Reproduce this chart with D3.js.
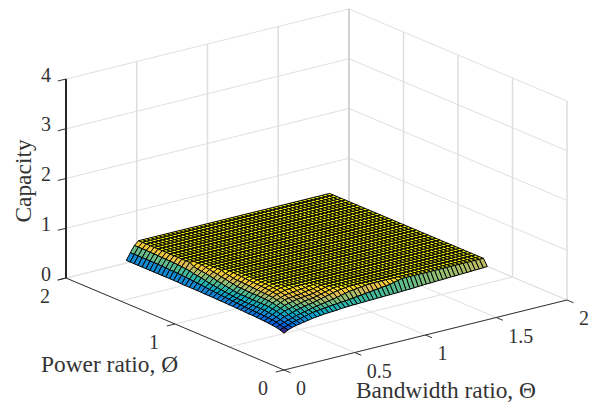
<!DOCTYPE html>
<html><head><meta charset="utf-8">
<script src="https://cdn.jsdelivr.net/npm/d3@7"></script>
<style>html,body{margin:0;padding:0;background:#fff}svg{display:block}text{font-family:"Liberation Serif",serif;fill:#333}</style>
</head><body><div id="c"></div>
<script>
const zTicks=[0,1,2,3,4];
const powerTicks=[0,1,2];
const bandwidthTicks=[0,0.5,1,1.5,2];
const bandwidthTickLabels=["0","0.5","1","1.5","2"];
const gridSteps=[0,0.5,1,1.5,2];
const powerMax=1.447, bandwidthMax=1.437;
const powerCells=40, bandwidthCells=50;
const plateau=1.2;
// Capacity: rows by power, columns by bandwidth. A row lists its values until it reaches the plateau.
const capacityRows=[
[.74,.785,.815,.835,.85,.865,.88,.895,.905,.915,.925,.93,.935,.94,.95,.955,.96,.965,.965,.97,.97,.975,.975,.98,.98,.985,.985,.99,.99,.995,1.0,1.0,1.005,1.01,1.015,1.02,1.02,1.025,1.03,1.03,1.035,1.04,1.04,1.045,1.05,1.05,1.055,1.06,1.06,1.065,1.07],
[.77,.80,.83,.86,.88,.90,.92,.94,.96,.97,.98,.99,1.0,1.01,1.015,1.025,1.03,1.04,1.05,1.06,1.07,1.08,1.09,1.10,1.11,1.12,1.13,1.14,1.16,1.18],
[.79,.82,.85,.875,.90,.925,.945,.96,.98,1.0,1.015,1.03,1.045,1.06,1.075,1.09,1.11,1.13,1.15,1.16,1.17,1.18,1.19],
[.80,.84,.87,.91,.93,.955,.98,1.0,1.02,1.035,1.05,1.07,1.09,1.11,1.13,1.15,1.17,1.18,1.19],
[.81,.85,.89,.93,.97,.99,1.01,1.03,1.05,1.07,1.08,1.09,1.11,1.13,1.15,1.17,1.19],
[.815,.86,.905,.95,.99,1.03,1.05,1.07,1.09,1.10,1.11,1.12,1.13,1.15,1.17,1.19],
[.82,.865,.915,.965,1.01,1.05,1.09,1.10,1.11,1.12,1.13,1.15,1.16,1.17,1.19],
[.825,.87,.925,.98,1.03,1.07,1.10,1.13,1.14,1.15,1.16,1.17,1.18,1.19],
[.83,.87,.925,.98,1.04,1.09,1.13,1.15,1.17,1.18,1.19],
[.83,.875,.925,.98,1.045,1.095,1.14,1.17,1.19],
[.835,.88,.925,.98,1.05,1.10,1.15,1.18,1.19],
[.84,.88,.925,.98,1.05,1.105,1.155,1.185],
[.84,.885,.925,.98,1.05,1.11,1.16,1.19],
[.845,.89,.93,.985,1.05,1.115,1.165,1.19],
[.845,.895,.93,.985,1.055,1.12,1.17],
[.85,.90,.94,.99,1.06,1.125,1.175],
[.85,.905,.95,1.0,1.06,1.13,1.18],
[.85,.91,.96,1.02,1.08,1.13,1.19],
[.855,.92,.97,1.03,1.09,1.14,1.19],
[.855,.925,.98,1.045,1.11,1.16],
[.855,.93,.99,1.06,1.12,1.17],
[.86,.94,1.0,1.08,1.14],
[.86,.95,1.02,1.10,1.15],
[.86,.955,1.04,1.11,1.17],
[.86,.96,1.05,1.12,1.18],
[.86,.97,1.06,1.13],
[.86,.975,1.08,1.15],
[.865,.98,1.09],
[.865,.985,1.10],
[.865,.99,1.105],
[.865,.99,1.11],
[.865,.995,1.11],
[.865,.995,1.115],
[.865,1.0,1.115],
[.865,1.0,1.12],
[.865,1.0,1.12],
[.865,1.0,1.12],
[.865,1.0,1.125],
[.865,1.0,1.125],
[.865,1.0,1.125],
[.865,1.0,1.125]
];
const parula=["#352A87","#0363E1","#1485D4","#06A7C6","#38B99E","#92BF73","#D9BA56","#FCCE2E","#F9FB0E"];

const W=590,H=403;
const svg=d3.select("#c").append("svg").attr("width",W).attr("height",H);
// oblique projection: each data axis contributes a screen offset
const bwX=d3.scaleLinear([0,2],[0,283]), bwY=d3.scaleLinear([0,2],[0,-70]);
const pwX=d3.scaleLinear([0,2],[0,-218]), pwY=d3.scaleLinear([0,2],[0,-92]);
const zY=d3.scaleLinear([0,4],[0,-199]);
const ox=284, oy=370;
const pr=(b,p,z)=>[ox+bwX(b)+pwX(p), oy+bwY(b)+pwY(p)+zY(z)];
const seg=(a,b)=>"M"+a.join(",")+"L"+b.join(",");

const grid=svg.append("g").attr("fill","none");
const thin={stroke:"#e0e0e0",w:1}, vert={stroke:"#dedede",w:1.5};
function ln(g,d,c,w){g.append("path").attr("d",d).attr("stroke",c).attr("stroke-width",w);}
zTicks.forEach(z=>{ ln(grid,seg(pr(0,2,z),pr(2,2,z)),thin.stroke,thin.w); ln(grid,seg(pr(2,2,z),pr(2,0,z)),thin.stroke,thin.w); });
gridSteps.forEach(s=>{
  ln(grid,seg(pr(s,0,0),pr(s,2,0)),thin.stroke,thin.w);
  ln(grid,seg(pr(0,s,0),pr(2,s,0)),thin.stroke,thin.w);
  if(s>0) ln(grid,seg(pr(s,2,0),pr(s,2,4)),s===2?"#c4c4c4":vert.stroke,vert.w);
  if(s>0&&s<2) ln(grid,seg(pr(2,s,0),pr(2,s,4)),vert.stroke,vert.w);
});
ln(grid,seg(pr(2,0,0),pr(2,0,4)),vert.stroke,vert.w);

// surface
const zAll=capacityRows.flat();
const cDomain=d3.extent(zAll.concat([plateau]));
const cScale=d3.scaleLinear().domain(parula.map((_,i)=>cDomain[0]+(cDomain[1]-cDomain[0])*i/(parula.length-1))).range(parula);
const pAt=d3.scaleLinear([0,powerCells],[0,powerMax]);
const bAt=d3.scaleLinear([0,bandwidthCells],[0,bandwidthMax]);
const zAt=(i,j)=>{const r=capacityRows[i];return j<r.length?r[j]:plateau;};
const cells=[];
for(let i=powerCells-1;i>=0;i--)for(let j=bandwidthCells-1;j>=0;j--)cells.push([i,j]);
svg.append("g").attr("stroke","#000").attr("stroke-width",1).attr("stroke-linejoin","round")
 .selectAll("path").data(cells).join("path")
 .attr("d",([i,j])=>"M"+[[i,j],[i+1,j],[i+1,j+1],[i,j+1]].map(([a,b])=>pr(bAt(b),pAt(a),zAt(a,b)).join(",")).join("L")+"Z")
 .attr("fill",([i,j])=>cScale(zAt(i,j)));

// axes
const ax=svg.append("g").attr("fill","none");
ln(ax,seg(pr(0,2,0),pr(0,0,0)),"#333",1);
ln(ax,seg(pr(0,0,0),pr(2,0,0)),"#333",1);
ln(ax,seg(pr(0,2,0),pr(0,2,4)),"#262626",2);
zTicks.forEach(z=>ln(ax,seg(pr(0,2,z),pr(-0.058,2,z)),"#333",1));
powerTicks.forEach(p=>ln(ax,seg(pr(0,p,0),pr(-0.058,p,0)),"#333",1));
bandwidthTicks.forEach(b=>ln(ax,seg(pr(b,0,0),pr(b,-0.06,0)),"#333",1));

const fs=20, ls=23.4;
const t=svg.append("g").attr("font-size",fs);
zTicks.forEach(z=>{const q=pr(0,2,z);t.append("text").attr("x",q[0]-20).attr("y",q[1]+2.5).attr("text-anchor","middle").text(z);});
powerTicks.forEach(p=>{const q=pr(0,p,0);t.append("text").attr("x",q[0]-21).attr("y",q[1]+24.5).attr("text-anchor","middle").text(p);});
bandwidthTicks.forEach((b,k)=>{const q=pr(b,0,0);t.append("text").attr("x",q[0]+12).attr("y",q[1]+25).text(bandwidthTickLabels[k]);});
t.append("text").attr("font-size",ls).attr("x",41).attr("y",372).text("Power ratio, Ø");
t.append("text").attr("font-size",ls).attr("x",356).attr("y",398).text("Bandwidth ratio, Θ");
t.append("text").attr("font-size",ls).attr("transform","translate(31,181) rotate(-90)").attr("text-anchor","middle").text("Capacity");
</script></body></html>
